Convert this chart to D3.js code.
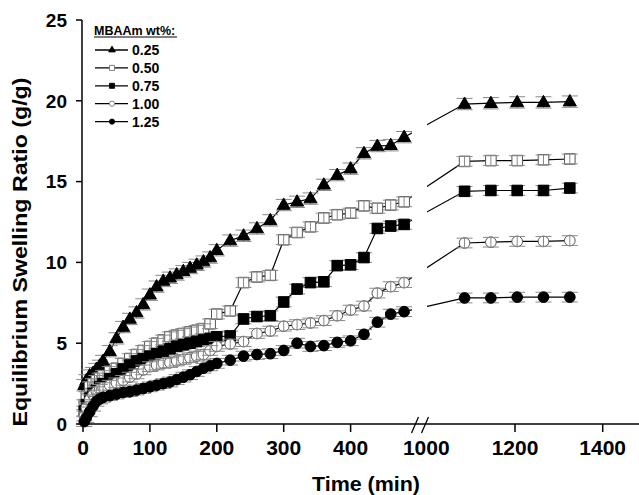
<!DOCTYPE html>
<html><head><meta charset="utf-8">
<script src="https://cdn.jsdelivr.net/npm/d3@7"></script>
<style>body{margin:0;background:#fff}svg{display:block}text{font-family:"Liberation Sans",Arial,sans-serif;font-weight:bold;fill:#000}</style>
</head><body><svg id="c" width="639" height="495"></svg>
<script>
// ---- data ----
const seriesNames = ["0.25","0.50","0.75","1.00","1.25"];
const legendTitle = "MBAAm wt%:";
const timesEarly = [2,5,10,15,20,25,30,40,50,60,70,80,90,100,110,120,130,140,150,160,170,180,190,200,220,240,260,280,300,320,340,360,380,400,420,440,460,480];
const timesLate = [1085,1145,1205,1265,1325];
const s025 = [2.4,2.7,3.0,3.15,3.4,3.6,3.9,4.5,5.3,6.0,6.5,6.9,7.4,8.0,8.5,8.85,9.05,9.25,9.45,9.65,9.85,10.05,10.3,10.75,11.35,11.65,12.1,12.6,13.55,13.75,13.95,14.8,15.4,15.8,16.75,17.2,17.25,17.75, 19.8,19.85,19.9,19.9,19.95];
const s050 = [1.2,1.7,2.3,2.5,2.7,2.85,3.0,3.25,3.45,3.75,4.05,4.3,4.55,4.8,5.0,5.2,5.4,5.5,5.6,5.7,5.8,5.9,6.2,6.8,7.0,8.75,9.1,9.2,11.4,11.85,12.2,12.75,12.95,13.05,13.5,13.35,13.55,13.75, 16.25,16.3,16.3,16.35,16.4];
const s075 = [0.8,1.2,1.6,1.9,2.1,2.3,2.5,2.8,3.1,3.4,3.65,3.9,4.05,4.2,4.35,4.5,4.65,4.8,4.9,5.0,5.1,5.2,5.3,5.4,5.45,6.5,6.65,6.7,7.55,8.35,8.75,8.8,9.8,9.85,10.3,12.1,12.25,12.35, 14.4,14.45,14.45,14.45,14.6];
const s100 = [0.5,1.0,1.5,1.8,2.0,2.15,2.25,2.4,2.55,2.7,2.9,3.1,3.35,3.55,3.65,3.75,3.8,3.9,4.0,4.1,4.2,4.3,4.55,4.8,4.95,5.1,5.6,5.75,6.05,6.15,6.25,6.4,6.7,7.05,7.3,8.1,8.5,8.75, 11.2,11.25,11.3,11.3,11.35];
const s125 = [0.15,0.4,0.75,1.1,1.4,1.55,1.65,1.75,1.85,1.95,2.0,2.1,2.2,2.3,2.4,2.5,2.6,2.75,2.9,3.05,3.25,3.45,3.6,3.75,3.95,4.2,4.3,4.35,4.55,5.0,4.8,4.85,5.05,5.15,5.55,6.3,6.8,6.95, 7.8,7.8,7.85,7.85,7.85];
const errorBars = [0.35,0.3,0.3,0.3,0.3];
const xTicksEarly = [0,100,200,300,400];
const xTicksLate = [1000,1200,1400];
const yTicks = [0,5,10,15,20,25];
const xTitle = "Time (min)";
const yTitle = "Equilibrium Swelling Ratio (g/g)";

// ---- setup ----
const svg = d3.select("#c");
const x1 = d3.scaleLinear().domain([0,500]).range([83,417.5]);
const x2 = d3.scaleLinear().domain([1000,1400]).range([427.3,602.7]);
const y = d3.scaleLinear().domain([0,25]).range([424,20]);
const xp = t => t <= 500 ? x1(t) : x2(t);
const allTimes = timesEarly.concat(timesLate);
const valuesAll = [s025,s050,s075,s100,s125];
const shapes = [
  {type:d3.symbolTriangle, filled:true, size:74, lsize:20},
  {type:d3.symbolSquare, filled:false, size:112, lsize:26},
  {type:d3.symbolSquare, filled:true, size:112, lsize:26},
  {type:d3.symbolCircle, filled:false, size:90, lsize:22},
  {type:d3.symbolCircle, filled:true, size:90, lsize:22}
];

// clip for break gap
const defs = svg.append("defs");
const cp = defs.append("clipPath").attr("id","gap");
cp.append("rect").attr("x",0).attr("y",0).attr("width",412).attr("height",495);
cp.append("rect").attr("x",427).attr("y",0).attr("width",220).attr("height",495);

// axes
const ax = svg.append("g").attr("stroke","#000").attr("stroke-width",1.5);
ax.append("line").attr("x1",82).attr("x2",82).attr("y1",y(25)).attr("y2",y(0)+0.7);
ax.append("line").attr("x1",82).attr("x2",639).attr("y1",y(0)).attr("y2",y(0));
yTicks.forEach(v=>{
  ax.append("line").attr("x1",76).attr("x2",82).attr("y1",y(v)).attr("y2",y(v));
  svg.append("text").attr("x",67).attr("y",y(v)).attr("dy","0.36em").attr("text-anchor","end").attr("font-size",19).text(v);
});
xTicksEarly.forEach(v=>{
  ax.append("line").attr("x1",x1(v)).attr("x2",x1(v)).attr("y1",424).attr("y2",432);
  svg.append("text").attr("x",x1(v)).attr("y",455).attr("text-anchor","middle").attr("font-size",21).text(v);
});
xTicksLate.forEach(v=>{
  if (v !== 1000) ax.append("line").attr("x1",x2(v)).attr("x2",x2(v)).attr("y1",424).attr("y2",432);
  svg.append("text").attr("x",v===1000?x2(v)-1:x2(v)).attr("y",455).attr("text-anchor","middle").attr("font-size",21).text(v);
});
// break marks
const br = svg.append("g").attr("stroke","#000").attr("stroke-width",1.3);
br.append("line").attr("x1",411.5).attr("y1",433).attr("x2",418.5).attr("y2",417);
br.append("line").attr("x1",421.5).attr("y1",433).attr("x2",428.5).attr("y2",417);

svg.append("text").attr("x",366).attr("y",491).attr("text-anchor","middle").attr("font-size",20)
  .attr("textLength",108).attr("lengthAdjust","spacingAndGlyphs").text(xTitle);
svg.append("text").attr("transform","translate(27,252) rotate(-90)").attr("text-anchor","middle").attr("font-size",20)
  .attr("textLength",349).attr("lengthAdjust","spacingAndGlyphs").text(yTitle);

// series
const line = d3.line().x(d=>xp(d.t)).y(d=>y(d.v));
const plot = svg.append("g");
valuesAll.forEach((vals,i)=>{
  const pts = allTimes.map((t,k)=>({t, v: vals[k]}));
  const sh = shapes[i];
  const g = plot.append("g");
  g.append("path").attr("d",line(pts)).attr("fill","none").attr("stroke","#000").attr("stroke-width",1.2).attr("clip-path","url(#gap)");
  const e = errorBars[i];
  const drawErr = () => {
    const eg = g.append("g").attr("stroke","#888").attr("stroke-width",1);
    pts.forEach(p=>{
      const cx = xp(p.t);
      eg.append("line").attr("x1",cx).attr("x2",cx).attr("y1",y(p.v-e)).attr("y2",y(p.v+e));
      eg.append("line").attr("x1",cx-8).attr("x2",cx+8).attr("y1",y(p.v-e)).attr("y2",y(p.v-e));
      eg.append("line").attr("x1",cx-8).attr("x2",cx+8).attr("y1",y(p.v+e)).attr("y2",y(p.v+e));
    });
  };
  if (sh.filled) drawErr();
  const sym = d3.symbol().type(sh.type).size(sh.size);
  g.selectAll("path.m").data(pts).join("path").attr("class","m")
    .attr("transform",p=>`translate(${xp(p.t)},${y(p.v) + (sh.type===d3.symbolTriangle?0.5:0)})`)
    .attr("d",sym)
    .attr("fill",sh.filled?"#000":"#fff")
    .attr("stroke",sh.filled?"#000":"#555").attr("stroke-width",1);
  if (!sh.filled) drawErr();
});

// legend
const lg = svg.append("g");
lg.append("text").attr("x",94).attr("y",35).attr("font-size",12.5).text(legendTitle);
lg.append("line").attr("x1",94).attr("x2",177).attr("y1",37).attr("y2",37).attr("stroke","#000").attr("stroke-width",1);
seriesNames.forEach((n,i)=>{
  const cy = 50 + i*17.9;
  lg.append("line").attr("x1",95).attr("x2",128).attr("y1",cy).attr("y2",cy).attr("stroke","#000").attr("stroke-width",1.3);
  const sh = shapes[i];
  lg.append("path").attr("transform",`translate(112,${cy})`).attr("d",d3.symbol().type(sh.type).size(sh.lsize))
    .attr("fill",sh.filled?"#000":"#fff").attr("stroke",sh.filled?"#000":"#666").attr("stroke-width",0.8);
  lg.append("text").attr("x",132).attr("y",cy+5).attr("font-size",14).text(n);
});
</script></body></html>
